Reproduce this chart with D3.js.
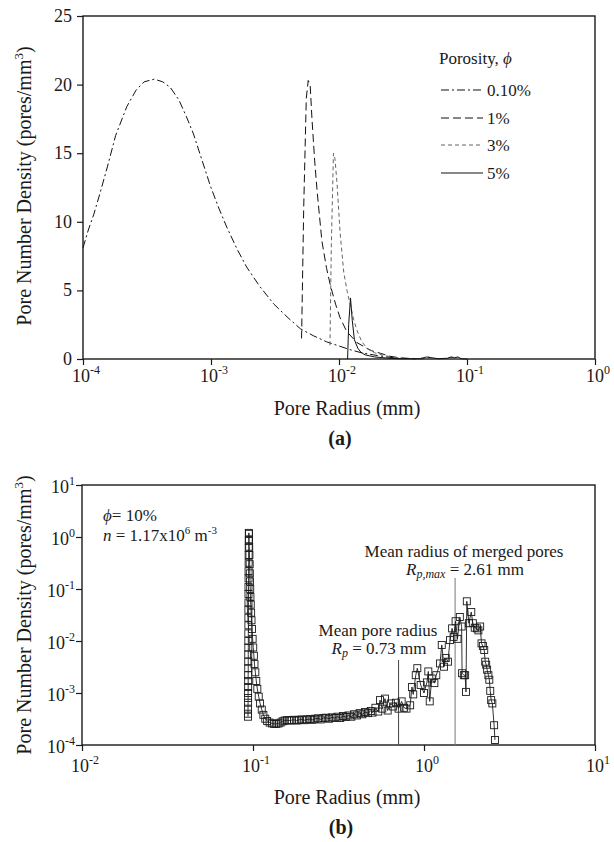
<!DOCTYPE html>
<html><head><meta charset="utf-8">
<script src="https://cdn.jsdelivr.net/npm/d3@7"></script>
<style>
body{margin:0;background:#fff;}
svg{display:block;font-family:"Liberation Serif","Times New Roman",serif;}
</style></head>
<body>
<svg id="c" width="614" height="842"></svg>
<script>
// ---------- Chart (a) data: pore radius (mm) and pore number density ----------
const seriesNames = ["0.10%", "1%", "3%", "5%"];
const rA010 = [1e-4,1.1e-4,1.21e-4,1.35e-4,1.55e-4,1.8e-4,2.2e-4,2.6e-4,3.0e-4,3.6e-4,4.2e-4,4.8e-4,5.6e-4,6.4e-4,7.3e-4,8.5e-4,9.9e-4,1.15e-3,1.33e-3,1.6e-3,1.9e-3,2.4e-3,3.1e-3,4e-3,5e-3,6.3e-3,8e-3,0.01,0.012,0.015,0.02,0.025,0.03,0.04];
const vA010 = [8.1,9.4,10.5,12.0,14.0,16.3,18.4,19.6,20.2,20.4,20.2,19.8,18.9,17.7,16.4,14.5,12.6,11.0,9.6,8.0,6.7,5.3,4.0,3.0,2.2,1.7,1.25,0.95,0.7,0.45,0.25,0.12,0.05,0.02];
const rA1 = [5.1e-3,5.3e-3,5.55e-3,5.75e-3,5.95e-3,6.15e-3,6.45e-3,6.75e-3,7.35e-3,8e-3,8.6e-3,9.4e-3,0.0102,0.0115,0.0138,0.016,0.018,0.021,0.025,0.03,0.04];
const vA1 = [1.5,11,19,20.3,20.0,17.5,14.5,12.2,8.6,6.6,5.3,4.0,3.0,2.0,1.2,0.85,0.6,0.42,0.2,0.08,0.02];
const rA3 = [8.5e-3,8.7e-3,9.05e-3,9.3e-3,9.65e-3,0.0102,0.0109,0.0116,0.0123,0.013,0.0138,0.015,0.0166,0.019,0.0225,0.0251,0.03,0.04,0.045,0.05,0.055,0.07,0.078,0.085,0.1];
const vA3 = [1.0,8,15.0,14.6,12.8,9.2,6.3,4.9,3.9,2.9,2.1,1.3,0.75,0.45,0.25,0.17,0.06,0.02,0.1,0.15,0.02,0.05,0.12,0.05,0];
const rA5 = [0.01167,0.0119,0.0123,0.0127,0.0132,0.014,0.0148,0.016,0.019,0.025,0.03,0.045,0.048,0.052,0.06,0.07,0.075,0.08,0.085,0.09,0.1];
const vA5 = [0,2.5,4.45,2.8,1.4,0.8,0.5,0.3,0.15,0.05,0.02,0.02,0.15,0.1,0.02,0.05,0.15,0.1,0.15,0.02,0];
const yTicksA = [0,5,10,15,20,25];
const xTicksA = [1e-4,1e-3,1e-2,1e-1,1];
const xExpA = ["-4","-3","-2","-1","0"];

// ---------- Chart (b) data: phi = 10% ----------
const rB = [0.0935,0.0935,0.0935,0.0936,0.0936,0.0936,0.0937,0.0937,0.0937,0.0938,0.0938,0.0938,0.0939,0.0939,0.0939,0.094,0.094,0.094,0.0941,0.0941,0.0941,0.0942,0.0942,0.0943,0.0943,0.0944,0.0944,0.0945,
0.0947,0.0948,0.095,0.0953,0.0956,0.0958,0.096,0.0963,0.0966,0.097,0.0975,0.098,0.0987,0.0995,0.1003,0.1012,0.102,0.1032,0.1045,0.106,0.108,0.110,0.1125,0.115,0.118,0.121,0.125,0.129,0.133,0.137,0.141,0.145,0.149,0.153,0.158,0.163,0.168,0.174,0.18,0.186,0.193,0.2,0.207,0.215,0.223,0.231,0.24,0.249,0.258,0.268,0.278,0.289,0.3,0.312,0.324,0.336,0.349,0.362,0.376,0.39,0.405,0.42,0.436,0.452,0.47,0.488,0.5,0.52,0.54,0.553,0.57,0.591,0.613,0.64,0.66,0.685,0.71,0.74,0.765,0.79,0.83,0.85,0.865,0.895,0.914,0.956,1.0,1.04,1.06,1.08,1.11,1.15,1.18,1.24,1.27,1.31,1.34,1.38,1.42,1.46,1.49,1.53,1.57,1.62,1.66,1.67,1.71,1.74,1.76,1.78,1.83,1.89,1.93,1.98,2.04,2.08,2.13,2.17,2.21,2.25,2.28,2.31,2.34,2.38,2.41,2.44,2.47,2.51,2.57,2.6];
const vB = [3.5e-4,4.0e-4,5.0e-4,6.5e-4,8.0e-4,1.0e-3,1.3e-3,1.7e-3,2.2e-3,3.0e-3,4.0e-3,5.5e-3,7.5e-3,0.01,0.014,0.02,0.028,0.04,0.055,0.08,0.11,0.16,0.22,0.32,0.45,0.62,0.85,1.2,
1.15,0.9,0.65,0.45,0.3,0.2,0.14,0.1,0.07,0.05,0.035,0.025,0.017,0.011,0.0075,0.0052,0.0036,0.0025,0.0017,0.0012,8.5e-4,6.3e-4,4.8e-4,3.8e-4,3.2e-4,2.9e-4,2.7e-4,2.6e-4,2.55e-4,2.55e-4,2.6e-4,2.7e-4,2.85e-4,2.95e-4,3.0e-4,2.95e-4,3.0e-4,3.05e-4,2.95e-4,3.05e-4,3.1e-4,3.0e-4,3.1e-4,3.15e-4,3.05e-4,3.2e-4,3.25e-4,3.1e-4,3.3e-4,3.35e-4,3.2e-4,3.4e-4,3.3e-4,3.5e-4,3.3e-4,3.6e-4,3.45e-4,3.7e-4,3.5e-4,3.9e-4,3.7e-4,4.1e-4,3.9e-4,4.3e-4,4.1e-4,4.5e-4,4.2e-4,5.2e-4,4.4e-4,7.3e-4,5.0e-4,7.8e-4,4.6e-4,6.3e-4,5.5e-4,6.5e-4,5.0e-4,6.9e-4,5.2e-4,5.0e-4,5.8e-4,1.3e-3,9.4e-4,2.2e-3,3.0e-3,1.43e-3,1.0e-3,1.6e-3,2.6e-3,6.9e-4,1.9e-3,1.55e-3,2.2e-3,3.7e-3,8.4e-3,3.2e-3,4.7e-3,4.0e-3,1.04e-2,1.75e-2,1.2e-2,2.4e-2,1.1e-2,2.9e-2,1.9e-2,2.4e-3,2.2e-3,2.2e-3,1.05e-3,5.8e-2,2.2e-2,3.6e-2,2.2e-2,1.8e-2,1.75e-2,1.6e-2,1.9e-2,9e-3,8e-3,6.7e-3,4.0e-3,3.5e-3,2.8e-3,2.2e-3,1.8e-3,1.1e-3,7.3e-4,6.3e-4,2.4e-4,1.25e-4];
const yTicksB = [1e-4,1e-3,1e-2,1e-1,1,10];
const yExpB = ["-4","-3","-2","-1","0","1"];
const xTicksB = [0.01,0.1,1,10];
const xExpB = ["-2","-1","0","1"];
const meanR = 0.73, meanRline = 0.71;
const mergedRline = 1.52;

const svg = d3.select("#c");
const ink = "#1a1a1a";

function frame(x0,x1,y0,y1){
  svg.append("rect").attr("x",x0).attr("y",y0).attr("width",x1-x0).attr("height",y1-y0)
    .attr("fill","none").attr("stroke",ink).attr("stroke-width",1.4);
}
function powLabel(g,x,y,exp,anchor){
  const t = g.append("text").attr("x",x).attr("y",y).attr("text-anchor",anchor)
    .attr("font-size",18).attr("fill",ink);
  t.append("tspan").text("10");
  t.append("tspan").attr("dy",-8).attr("font-size",12).text(exp);
  return t;
}

// ================= Chart (a) =================
const ax = d3.scaleLog().domain([1e-4,1]).range([83,595]);
const ay = d3.scaleLinear().domain([0,25]).range([359,16]);
frame(83,595,16,359);
const gA = svg.append("g");
gA.append("g").attr("transform","translate(0,359)")
  .call(d3.axisBottom(ax).tickValues(xTicksA).tickSize(6).tickFormat(()=>""))
  .call(g=>{g.select(".domain").remove(); g.selectAll("line").attr("stroke",ink).attr("stroke-width",1.2);});
gA.append("g").attr("transform","translate(83,0)")
  .call(d3.axisLeft(ay).tickValues(yTicksA).tickSize(6).tickFormat(()=>""))
  .call(g=>{g.select(".domain").remove(); g.selectAll("line").attr("stroke",ink).attr("stroke-width",1.2);});
yTicksA.forEach(v=>{
  gA.append("text").attr("x",72).attr("y",ay(v)+6).attr("text-anchor","end")
    .attr("font-size",18).attr("fill",ink).text(v);
});
xTicksA.forEach((v,i)=>{ powLabel(gA, ax(v)+3, 382, xExpA[i], "middle"); });

const lineA = (rs,vs)=> d3.line().x((d,i)=>ax(rs[i])).y((d,i)=>ay(vs[i]))(rs);
const styles = [
  {dash:"8,3,2,3", stroke:"#111", w:1},
  {dash:"8,4", stroke:"#111", w:1},
  {dash:"4,3", stroke:"#666", w:1},
  {dash:null, stroke:"#111", w:1}
];
const dataA = [[rA010,vA010],[rA1,vA1],[rA3,vA3],[rA5,vA5]];
dataA.forEach((d,k)=>{
  const p = gA.append("path").attr("d",lineA(d[0],d[1])).attr("fill","none")
    .attr("stroke",styles[k].stroke).attr("stroke-width",styles[k].w);
  if(styles[k].dash) p.attr("stroke-dasharray",styles[k].dash);
});

// legend
const leg = svg.append("g");
const lt = leg.append("text").attr("x",439).attr("y",64).attr("font-size",17).attr("fill",ink);
lt.append("tspan").text("Porosity, ");
lt.append("tspan").attr("font-style","italic").text("\u03D5");
const rowY = [90,118,145,173];
seriesNames.forEach((n,k)=>{
  const l = leg.append("line").attr("x1",441).attr("x2",483).attr("y1",rowY[k]).attr("y2",rowY[k])
    .attr("stroke",styles[k].stroke).attr("stroke-width",1.1);
  if(styles[k].dash) l.attr("stroke-dasharray",styles[k].dash);
  leg.append("text").attr("x",487).attr("y",rowY[k]+6).attr("font-size",17).attr("fill",ink).text(n);
});

// axis titles (a)
function yTitle(cx,cy){
  const t = svg.append("text").attr("transform",`translate(${cx},${cy}) rotate(-90)`)
    .attr("text-anchor","middle").attr("font-size",20).attr("fill",ink);
  t.append("tspan").text("Pore Number Density (pores/mm");
  t.append("tspan").attr("dy",-8).attr("font-size",13).text("3");
  t.append("tspan").attr("dy",8).text(")");
}
yTitle(31,186);
svg.append("text").attr("x",347).attr("y",415).attr("text-anchor","middle").attr("font-size",20).attr("fill",ink).text("Pore Radius (mm)");
svg.append("text").attr("x",340).attr("y",445).attr("text-anchor","middle").attr("font-size",20).attr("font-weight","bold").attr("fill",ink).text("(a)");

// ================= Chart (b) =================
const bx = d3.scaleLog().domain([0.01,10]).range([82,595]);
const by = d3.scaleLog().domain([1e-4,10]).range([745,485]);
frame(82,595,485,745);
const gB = svg.append("g");
gB.append("g").attr("transform","translate(0,745)")
  .call(d3.axisBottom(bx).tickValues(xTicksB).tickSize(6).tickFormat(()=>""))
  .call(g=>{g.select(".domain").remove(); g.selectAll("line").attr("stroke",ink).attr("stroke-width",1.2);});
gB.append("g").attr("transform","translate(82,0)")
  .call(d3.axisLeft(by).tickValues(yTicksB).tickSize(6).tickFormat(()=>""))
  .call(g=>{g.select(".domain").remove(); g.selectAll("line").attr("stroke",ink).attr("stroke-width",1.2);});
yTicksB.forEach((v,i)=>{ powLabel(gB, 75, by(v)+8, yExpB[i], "end"); });
xTicksB.forEach((v,i)=>{ powLabel(gB, bx(v)+3, 772, xExpB[i], "middle"); });

// reference lines
gB.append("line").attr("x1",bx(meanRline)).attr("x2",bx(meanRline)).attr("y1",660).attr("y2",745)
  .attr("stroke","#444").attr("stroke-width",1);
gB.append("line").attr("x1",bx(mergedRline)).attr("x2",bx(mergedRline)).attr("y1",578).attr("y2",745)
  .attr("stroke","#777").attr("stroke-width",1);

// data line + markers
const lineB = d3.line().x((d,i)=>bx(rB[i])).y((d,i)=>by(vB[i]));
gB.append("path").attr("d",lineB(rB)).attr("fill","none").attr("stroke",ink).attr("stroke-width",0.9);
gB.selectAll("rect.m").data(rB).enter().append("rect").attr("class","m")
  .attr("x",(d,i)=>bx(rB[i])-3.5).attr("y",(d,i)=>by(vB[i])-3.5)
  .attr("width",7).attr("height",7).attr("fill","none").attr("stroke",ink).attr("stroke-width",0.9);

// annotations
const a1 = svg.append("text").attr("x",103).attr("y",521).attr("font-size",17).attr("fill",ink);
a1.append("tspan").attr("font-style","italic").text("\u03D5");
a1.append("tspan").text("= 10%");
const a2 = svg.append("text").attr("x",103).attr("y",541).attr("font-size",17).attr("fill",ink);
a2.append("tspan").attr("font-style","italic").text("n");
a2.append("tspan").text(" = 1.17x10");
a2.append("tspan").attr("dy",-7).attr("font-size",11).text("6");
a2.append("tspan").attr("dy",7).text(" m");
a2.append("tspan").attr("dy",-7).attr("font-size",11).text("-3");

svg.append("text").attr("x",464).attr("y",557).attr("text-anchor","middle").attr("font-size",17).attr("fill",ink).text("Mean radius of merged pores");
const a3 = svg.append("text").attr("x",465).attr("y",575).attr("text-anchor","middle").attr("font-size",17).attr("fill",ink);
a3.append("tspan").attr("font-style","italic").text("R");
a3.append("tspan").attr("font-style","italic").attr("font-size",12).attr("dy",3).text("p,max");
a3.append("tspan").attr("dy",-3).text(" = 2.61 mm");

svg.append("text").attr("x",378).attr("y",636).attr("text-anchor","middle").attr("font-size",17).attr("fill",ink).text("Mean pore radius");
const a4 = svg.append("text").attr("x",379).attr("y",654).attr("text-anchor","middle").attr("font-size",17).attr("fill",ink);
a4.append("tspan").attr("font-style","italic").text("R");
a4.append("tspan").attr("font-style","italic").attr("font-size",12).attr("dy",3).text("p");
a4.append("tspan").attr("dy",-3).text(" = " + meanR + " mm");

// axis titles (b)
yTitle(31,615);
svg.append("text").attr("x",347).attr("y",804).attr("text-anchor","middle").attr("font-size",20).attr("fill",ink).text("Pore Radius (mm)");
svg.append("text").attr("x",341).attr("y",834).attr("text-anchor","middle").attr("font-size",20).attr("font-weight","bold").attr("fill",ink).text("(b)");
</script>
</body></html>
